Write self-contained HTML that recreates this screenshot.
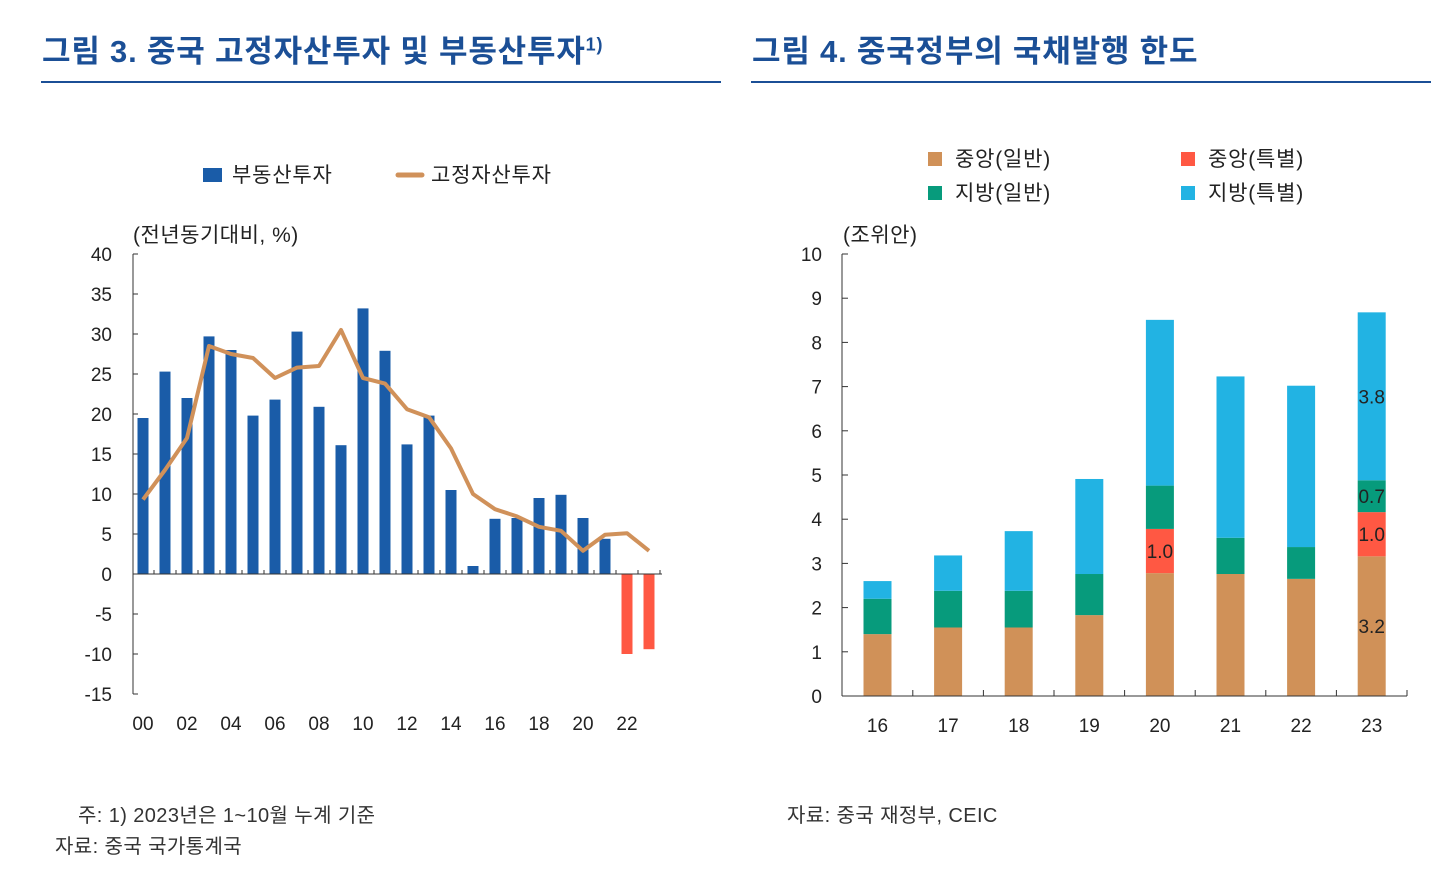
<!DOCTYPE html>
<html><head><meta charset="utf-8"><style>
body{margin:0;width:1447px;height:875px;background:#fff;font-family:"Liberation Sans","Noto Sans CJK KR",sans-serif;overflow:hidden}
.t{position:absolute;font-size:31px;font-weight:bold;color:#1b4f96;letter-spacing:0.8px;top:26px}
.rule{position:absolute;height:2px;background:#1b4f96}
.note{position:absolute;font-size:20px;color:#333;letter-spacing:0.4px}
svg text{font-family:"Liberation Sans","Noto Sans CJK KR",sans-serif;fill:#222}
</style></head><body>
<div class="t" style="left:42px">그림 3. 중국 고정자산투자 및 부동산투자<sup style="font-size:18px">1)</sup></div>
<div class="rule" style="left:41px;top:81px;width:680px"></div>
<div class="t" style="left:752px">그림 4. 중국정부의 국채발행 한도</div>
<div class="rule" style="left:751px;top:81px;width:680px"></div>
<div class="note" style="left:78px;top:799px">주: 1) 2023년은 1~10월 누계 기준</div>
<div class="note" style="left:55px;top:830px">자료: 중국 국가통계국</div>
<div class="note" style="left:787px;top:799px">자료: 중국 재정부, CEIC</div>
<svg id="c1" width="1447" height="875" style="position:absolute;left:0;top:0"></svg>
<script>
const years=["00","01","02","03","04","05","06","07","08","09","10","11","12","13","14","15","16","17","18","19","20","21","22","23"];
const realEstate=[19.5,25.3,22,29.7,28,19.8,21.8,30.3,20.9,16.1,33.2,27.9,16.2,19.8,10.5,1.0,6.9,7.0,9.5,9.9,7.0,4.4,-10,-9.4];
const fixedAsset=[9.3,13,17,28.5,27.5,27,24.5,25.8,26,30.5,24.5,23.8,20.6,19.6,15.7,10,8.1,7.2,5.9,5.4,2.9,4.9,5.1,2.9];
const yTicks1=[40,35,30,25,20,15,10,5,0,-5,-10,-15];
const cats2=["16","17","18","19","20","21","22","23"];
const centralGen=[1.4,1.55,1.55,1.83,2.78,2.76,2.65,3.16];
const centralSp=[0,0,0,0,1.0,0,0,1.0];
const localGen=[0.8,0.83,0.83,0.93,0.98,0.82,0.72,0.72];
const localSp=[0.4,0.8,1.35,2.15,3.75,3.65,3.65,3.8];
const yTicks2=[0,1,2,3,4,5,6,7,8,9,10];
const labels2=[{i:4,k:"cs",t:"1.0"},{i:7,k:"cg",t:"3.2"},{i:7,k:"cs",t:"1.0"},{i:7,k:"lg",t:"0.7"},{i:7,k:"ls",t:"3.8"}];

const svg=document.getElementById('c1');const NS="http://www.w3.org/2000/svg";
function el(t,a,txt){const e=document.createElementNS(NS,t);for(const k in a)e.setAttribute(k,a[k]);if(txt!=null)e.textContent=txt;svg.appendChild(e);return e;}
const y1=v=>574-v*8, x1=i=>143+i*22;
let e=el('line',{x1:133,y1:254,x2:133,y2:694,stroke:'#333'});

yTicks1.forEach(v=>{e=el('text',{x:112,y:y1(v)+7,'text-anchor':'end','font-size':19},v);

el('line',{x1:133,y1:y1(v),x2:138,y2:y1(v),stroke:'#333'});});
years.forEach((yr,i)=>{const v=realEstate[i];
e=el('rect',{x:x1(i)-5.5,y:Math.min(y1(v),y1(0)),width:11,height:Math.abs(y1(v)-y1(0)),fill:v<0?'#ff5843':'#1a5ca8'});

el('line',{x1:x1(i)+11,y1:574,x2:x1(i)+11,y2:570,stroke:'#333'});
if(i%2==0){e=el('text',{x:x1(i),y:730,'text-anchor':'middle','font-size':19},yr);
}});
e=el('line',{x1:133,y1:574,x2:662,y2:574,stroke:'#333'});

e=el('polyline',{points:fixedAsset.map((v,i)=>x1(i)+','+y1(v)).join(' '),fill:'none',stroke:'#d0915a','stroke-width':4,'stroke-linejoin':'round'});

e=el('text',{x:133,y:242,'font-size':21,'letter-spacing':0.5},'(전년동기대비, %)');
e=el('rect',{x:203,y:168,width:19,height:14,fill:'#1a5ca8'});
el('text',{x:232,y:182,'font-size':21,'letter-spacing':0.8},'부동산투자');
e=el('line',{x1:398,y1:175,x2:422,y2:175,stroke:'#d0915a','stroke-width':5,'stroke-linecap':'round'});
el('text',{x:431,y:182,'font-size':21,'letter-spacing':0.8},'고정자산투자');
const y2=v=>696-v*44.2, x2=i=>877.5+i*70.6;
e=el('line',{x1:842,y1:254,x2:842,y2:696,stroke:'#333'});
yTicks2.forEach(v=>{e=el('text',{x:822,y:y2(v)+7,'text-anchor':'end','font-size':19},v);

el('line',{x1:842,y1:y2(v),x2:848,y2:y2(v),stroke:'#333'});});
const cols={cg:'#d09158',cs:'#ff5843',lg:'#079b7c',ls:'#22b3e3'};
const tops={};
cats2.forEach((c,i)=>{let base=0;
[['cg',centralGen],['cs',centralSp],['lg',localGen],['ls',localSp]].forEach(([k,arr])=>{const v=arr[i];
tops[k+i]=[base,base+v];
if(v>0){e=el('rect',{x:x2(i)-14,y:y2(base+v),width:28,height:y2(base)-y2(base+v),fill:cols[k]});
}
base+=v;});
e=el('text',{x:x2(i),y:732,'text-anchor':'middle','font-size':19},c);
el('line',{x1:x2(i)+35.3,y1:696,x2:x2(i)+35.3,y2:690,stroke:'#333'});});
labels2.forEach(l=>{const [a,b]=tops[l.k+l.i];
e=el('text',{x:x2(l.i),y:(y2(a)+y2(b))/2+7,'text-anchor':'middle','font-size':19},l.t);
});
e=el('line',{x1:842,y1:696,x2:1407,y2:696,stroke:'#333'});
e=el('text',{x:843,y:242,'font-size':21,'letter-spacing':0.5},'(조위안)');
[['cg','중앙(일반)',928,152],['cs','중앙(특별)',1181,152],['lg','지방(일반)',928,186],['ls','지방(특별)',1181,186]].forEach(([k,t,x,y])=>{
e=el('rect',{x:x,y:y,width:14,height:14,fill:cols[k]});
el('text',{x:x+27,y:y+14,'font-size':21,'letter-spacing':0.8},t);});
</script>
</body></html>
